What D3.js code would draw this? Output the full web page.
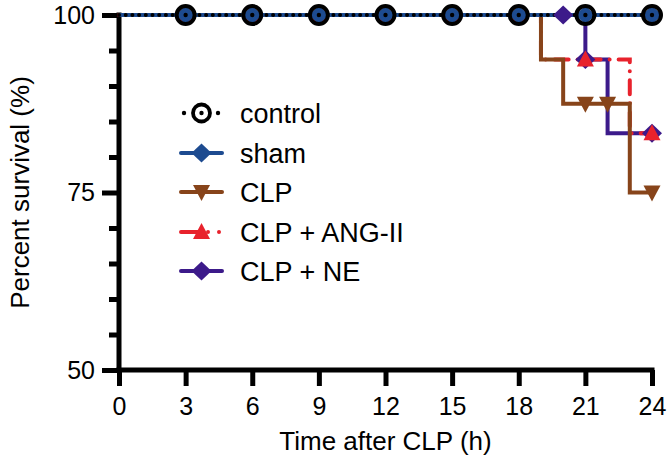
<!DOCTYPE html>
<html><head><meta charset="utf-8">
<script src="https://cdn.jsdelivr.net/npm/d3@7"></script>
<style>body{margin:0;background:#fff}svg{display:block}text{font-family:"Liberation Sans",Arial,Helvetica,sans-serif}</style>
</head><body><svg id="c" width="672" height="464"></svg>
<script>
// ---- data ----
const xTicks = [0,3,6,9,12,15,18,21,24];
const yMajor = [50,75,100];
const yMinor = [55,60,65,70,80,85,90,95];
const seriesNames = ["control","sham","CLP","CLP + ANG-II","CLP + NE"];
// survival step curves: [time, percent]
const controlSteps = [[0,100],[24,100]];
const shamSteps    = [[0,100],[24,100]];
const clpSteps     = [[0,100],[19,93.75],[20,87.5],[23,75],[24,75]];
const angSteps     = [[0,100],[19,93.75],[23,83.33],[24,83.33]];
const neSteps      = [[0,100],[21,93.75],[22,83.33],[24,83.33]];
// plotted symbols: [time, percent]
const controlPts = [[3,100],[6,100],[9,100],[12,100],[15,100],[18,100],[21,100],[24,100]];
const shamPts    = [[3,100],[6,100],[9,100],[12,100],[15,100],[18,100],[21,100],[24,100]];
const clpPts     = [[3,100],[6,100],[9,100],[12,100],[15,100],[18,100],[21,87.5],[22,87.5],[24,75]];
const angPts     = [[3,100],[6,100],[9,100],[12,100],[15,100],[18,100],[21,93.75],[24,83.33]];
const nePts      = [[3,100],[6,100],[9,100],[12,100],[15,100],[18,100],[20,100],[21,93.75],[24,83.33]];

const svg = d3.select("#c");
const x = d3.scaleLinear().domain([0,24]).range([119,652]);
const y = d3.scaleLinear().domain([50,100]).range([370,15]);

const colors = {control:"#000000", sham:"#1d4b90", CLP:"#87441a", ANG:"#e8222c", NE:"#3c1a8a"};

// symbol paths
const diamond = "M0,-9.5L10,0L0,9.5L-10,0Z";
const triDown = "M-8.5,-7L8.5,-7L0,9Z";
const triUp   = "M0,-9L8.5,7L-8.5,7Z";

// ---- axes ----
const axW = 5;
const gy = svg.append("g").attr("transform",`translate(${x(0)},0)`);
gy.call(d3.axisLeft(y).tickValues(yMajor).tickSize(17).tickSizeOuter(0).tickPadding(7));
const gym = svg.append("g").attr("transform",`translate(${x(0)},0)`);
gym.call(d3.axisLeft(y).tickValues(yMinor).tickSize(10).tickFormat(""));
gym.select(".domain").remove();
const gx = svg.append("g").attr("transform",`translate(0,${y(50)})`);
gx.call(d3.axisBottom(x).tickValues(xTicks).tickSize(16).tickSizeOuter(0).tickPadding(11));
[gy,gym,gx].forEach(g=>{
  g.selectAll(".domain,line").attr("stroke","#000").attr("stroke-width",axW);
  g.selectAll("text").attr("font-size",25).attr("fill","#000");
});
gy.select(".domain").attr("d",`M0,${y(100)-axW/2}V${y(50)+axW/2}`);
gx.select(".domain").attr("d",`M${x(0)-axW/2},0H${x(24)+axW/2}`);

svg.append("text").attr("transform",`translate(20,${(y(100)+y(50))/2}) rotate(-90)`)
  .attr("text-anchor","middle").attr("dominant-baseline","central").attr("font-size",26).text("Percent survival (%)");
svg.append("text").attr("x",(x(0)+x(24))/2).attr("y",450)
  .attr("text-anchor","middle").attr("font-size",26).text("Time after CLP (h)");

// ---- lines ----
const step = d3.line().x(d=>x(d[0])).y(d=>y(d[1])).curve(d3.curveStepAfter);
const lw = 4;
function drawLine(data,color,dash){
  const p = svg.append("path").attr("d",step(data)).attr("fill","none").attr("stroke",color)
    .attr("stroke-width",lw).attr("stroke-linejoin","miter");
  if(dash) p.attr("stroke-dasharray",dash).attr("stroke-linecap","round");
  return p;
}
drawLine(neSteps,colors.NE);
drawLine(angSteps,colors.ANG,"14,9,0,9");
drawLine(clpSteps,colors.CLP);
drawLine(shamSteps,colors.sham);
drawLine(controlSteps,colors.control,"0,6.7");

// ---- markers ----
function drawPts(data,path,color){
  svg.append("g").selectAll("path").data(data).join("path")
    .attr("transform",d=>`translate(${x(d[0])},${y(d[1])})`).attr("d",path).attr("fill",color);
}
drawPts(nePts,diamond,colors.NE);
drawPts(angPts,triUp,colors.ANG);
drawPts(clpPts,triDown,colors.CLP);
drawPts(shamPts,diamond,colors.sham);
const cg = svg.append("g").selectAll("g").data(controlPts).join("g")
  .attr("transform",d=>`translate(${x(d[0])},${y(d[1])})`);
cg.append("circle").attr("r",9).attr("fill","none").attr("stroke","#000").attr("stroke-width",4);
cg.append("circle").attr("r",2.2).attr("fill","#000");

// ---- legend ----
const legY = [113,153,192,232,271];
const lx0 = 181, lx1 = 222, lxm = 201.5;
const leg = svg.append("g");
seriesNames.forEach((name,i)=>{
  const yy = legY[i];
  const g = leg.append("g").attr("transform",`translate(0,${yy})`);
  if(i===0){
    g.append("circle").attr("cx",lx0+3).attr("r",2.2).attr("fill","#000");
    g.append("circle").attr("cx",lx1-4).attr("r",2.2).attr("fill","#000");
    g.append("circle").attr("cx",lxm).attr("r",8.5).attr("fill","none").attr("stroke","#000").attr("stroke-width",3.8);
    g.append("circle").attr("cx",lxm).attr("r",2.2).attr("fill","#000");
  } else {
    const col = [null,colors.sham,colors.CLP,colors.ANG,colors.NE][i];
    const ln = g.append("line").attr("x1",lx0).attr("x2",lx1).attr("stroke",col).attr("stroke-width",lw).attr("stroke-linecap","round");
    if(i===3) ln.attr("stroke-dasharray","17,10,0,11,0,20");
    const sym = [null,diamond,triDown,triUp,diamond][i];
    g.append("path").attr("transform",`translate(${lxm},0)`).attr("d",sym).attr("fill",col);
  }
  g.append("text").attr("x",240).attr("dy","0.36em").attr("font-size",27).text(name);
});
</script></body></html>
